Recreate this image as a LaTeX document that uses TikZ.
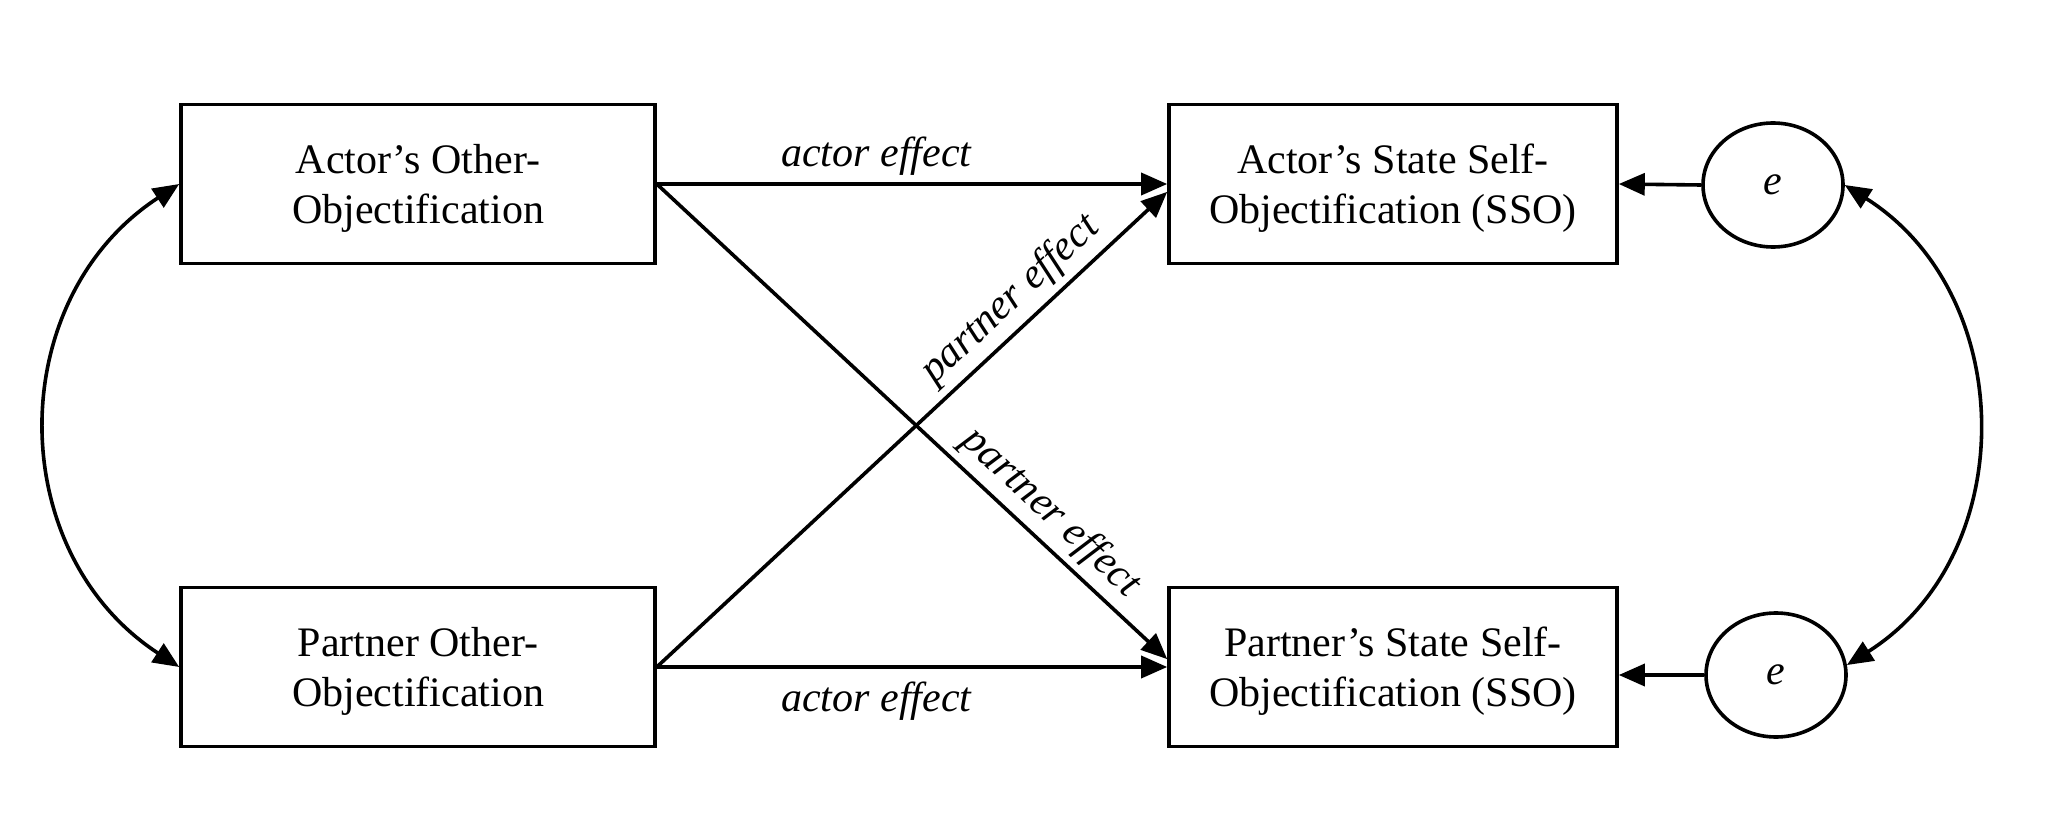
\documentclass[tikz,border=0pt]{standalone}
\usepackage{fontspec}
\setmainfont{Liberation Serif}
\usetikzlibrary{arrows.meta,shapes.geometric}
\begin{document}
\begin{tikzpicture}[x=0.5pt,y=-0.5pt,
  txt/.style={font=\fontsize{21}{25}\selectfont},
  box/.style={txt,draw,line width=1.8pt,minimum height=79.5pt,align=center,inner sep=0pt},
  err/.style={txt,draw,ellipse,line width=1.8pt,minimum width=70pt,minimum height=62pt,inner sep=0pt},
  lbl/.style={font=\fontsize{21}{25}\selectfont\itshape},
  arr/.style={line width=1.8pt,-{Triangle[length=13pt,width=11pt]}},
  biarr/.style={line width=1.8pt,{Triangle[length=13pt,width=11pt]}-{Triangle[length=13pt,width=11pt]}}]
\useasboundingbox (0,0) rectangle (2058,840);
\node[box,minimum width=237pt] (A) at (418,184) {\rule{0pt}{19.3pt}Actor’s Other-\\Objectification};
\node[box,minimum width=237pt] (B) at (418,667) {\rule{0pt}{19.3pt}Partner Other-\\Objectification};
\node[box,minimum width=224pt] (C) at (1393,184) {\rule{0pt}{19.3pt}Actor’s State Self-\\Objectification (SSO)};
\node[box,minimum width=224pt] (D) at (1393,667) {\rule{0pt}{19.3pt}Partner’s State Self-\\Objectification (SSO)};
\node[err] (e1) at (1773,185) {\itshape e};
\node[err] (e2) at (1776,675) {\itshape e};

\draw[arr] (A.east) -- node[lbl,above,pos=0.43] {actor effect} (C.west);
\draw[arr] (B.east) -- node[lbl,below=3pt,pos=0.43] {actor effect} (D.west);
\draw[arr] (B.east) -- node[lbl,above,sloped,pos=0.73] {partner effect} (C.182);
\draw[arr] (A.east) -- node[lbl,above,sloped,pos=0.735] {partner effect} (D.178);
\draw[arr] (e1.west) -- (C.east);
\draw[arr] (e2.west) -- (D.east |- e2.west);

\draw[biarr] (A.west) .. controls +(-176,115) and +(-176,-115) .. (B.west);
\draw[biarr] (e1.east) .. controls +(174,110) and +(174,-110) .. (e2.8);
\end{tikzpicture}
\end{document}
